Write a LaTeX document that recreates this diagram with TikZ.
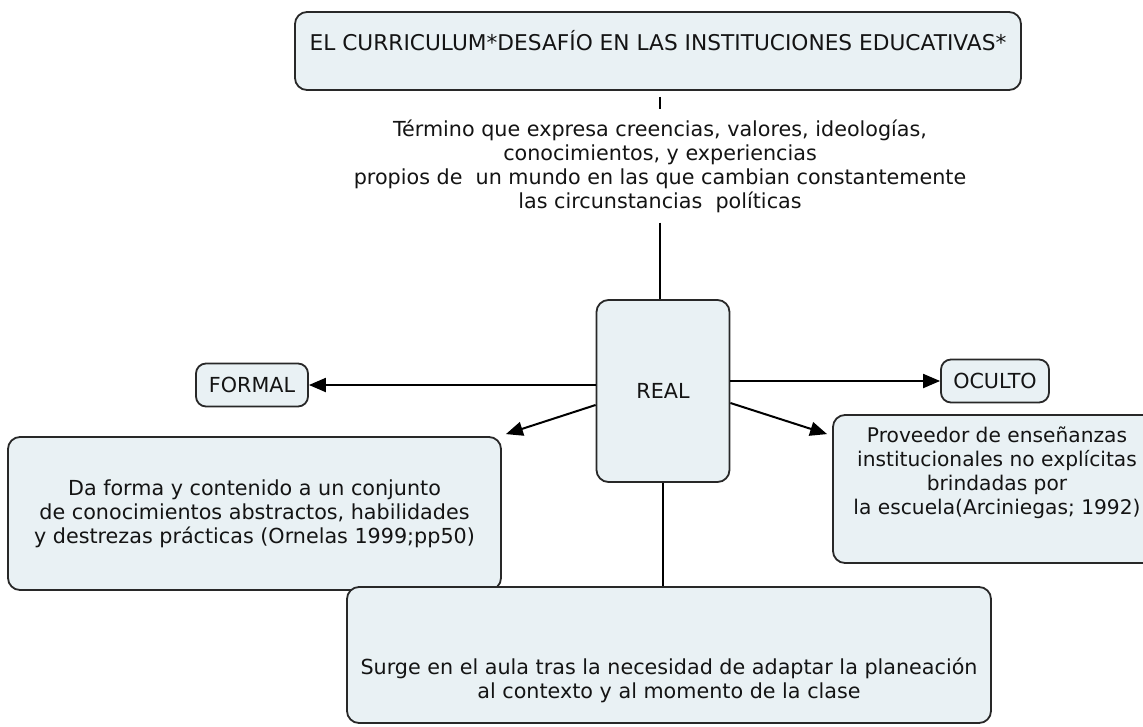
\documentclass[tikz,border=0pt]{standalone}
\usepackage{fontspec}
\setmainfont{DejaVu Sans}
\usetikzlibrary{arrows.meta,calc}
\definecolor{boxfill}{RGB}{233,241,244}
\definecolor{boxline}{RGB}{40,40,40}
\definecolor{txtcol}{RGB}{20,20,20}
\begin{document}
\begin{tikzpicture}[x=1pt,y=-1pt,
  concept/.style={draw=boxline, line width=1.8pt, fill=boxfill, rounded corners=12pt, inner sep=0pt, text=txtcol, font=\fontsize{20.7}{24}\selectfont, align=center},
  small/.style={concept, rounded corners=10pt},
  txt/.style={inner sep=0pt, text=txtcol, font=\fontsize{20.7}{24}\selectfont, align=center},
  link/.style={draw=black, line width=2pt},
  arr/.style={link, -{Triangle[length=17pt,width=14pt]}}]
\fill[white] (0,0) rectangle (1143,726);
\useasboundingbox (0,0) rectangle (1143,726);

% concepts
\node[concept, minimum width=726pt, minimum height=78pt] (top) at (658,51) {};
\node[txt, font=\fontsize{21.7}{24}\selectfont] (topT) at (658,41) {EL CURRICULUM*DESAFÍO EN LAS INSTITUCIONES EDUCATIVAS*};

\node[txt, inner xsep=4pt, inner ysep=10pt] (lab) at (660,166)
  {Término que expresa creencias, valores, ideologías,\\
   conocimientos, y experiencias\\
   propios de~ un mundo en las que cambian constantemente\\
   las circunstancias~ políticas};

\node[concept, minimum width=133pt, minimum height=182pt] (real) at (663,391) {REAL};
\node[small, minimum width=112pt, minimum height=43pt] (formal) at (252,385) {FORMAL};
\node[small, minimum width=108pt, minimum height=43pt] (oculto) at (995,381) {OCULTO};

\node[concept, minimum width=493pt, minimum height=153pt] (da) at (254.5,513.5)
  {Da forma y contenido a un conjunto\\
   de conocimientos abstractos, habilidades\\
   y destrezas prácticas (Ornelas 1999;pp50)};

\node[concept, minimum width=332pt, minimum height=148pt] (prov) at (999,489) {};
\node[txt, font=\fontsize{20.2}{24}\selectfont] (provT) at (997,472.5)
  {Proveedor de enseñanzas\\
   institucionales no explícitas\\
   brindadas por\\
   la escuela(Arciniegas; 1992)};

\node[concept, minimum width=644pt, minimum height=136pt] (bot) at (669,655) {};
\node[txt] (botT) at (669,680)
  {Surge en el aula tras la necesidad de adaptar la planeación\\
   al contexto y al momento de la clase};

% connectors
\draw[link, shorten <=6pt] (top.south -| lab.north) -- (lab.north);
\draw[link] (lab.south) -- (lab.south |- real.north);
\draw[arr] (real.west |- formal.east) -- (formal.east);
\draw[arr] (real.east |- oculto.west) -- (oculto.west);
\draw[arr] ([yshift=-14pt]real.west) -- ($(da.north east)+(4,-2)$);
\draw[arr] ([yshift=-12pt]real.east) -- ($(prov.north west)+(-5,20)$);
\draw[link] (real.south) -- (real.south |- bot.north);
\end{tikzpicture}
\end{document}
